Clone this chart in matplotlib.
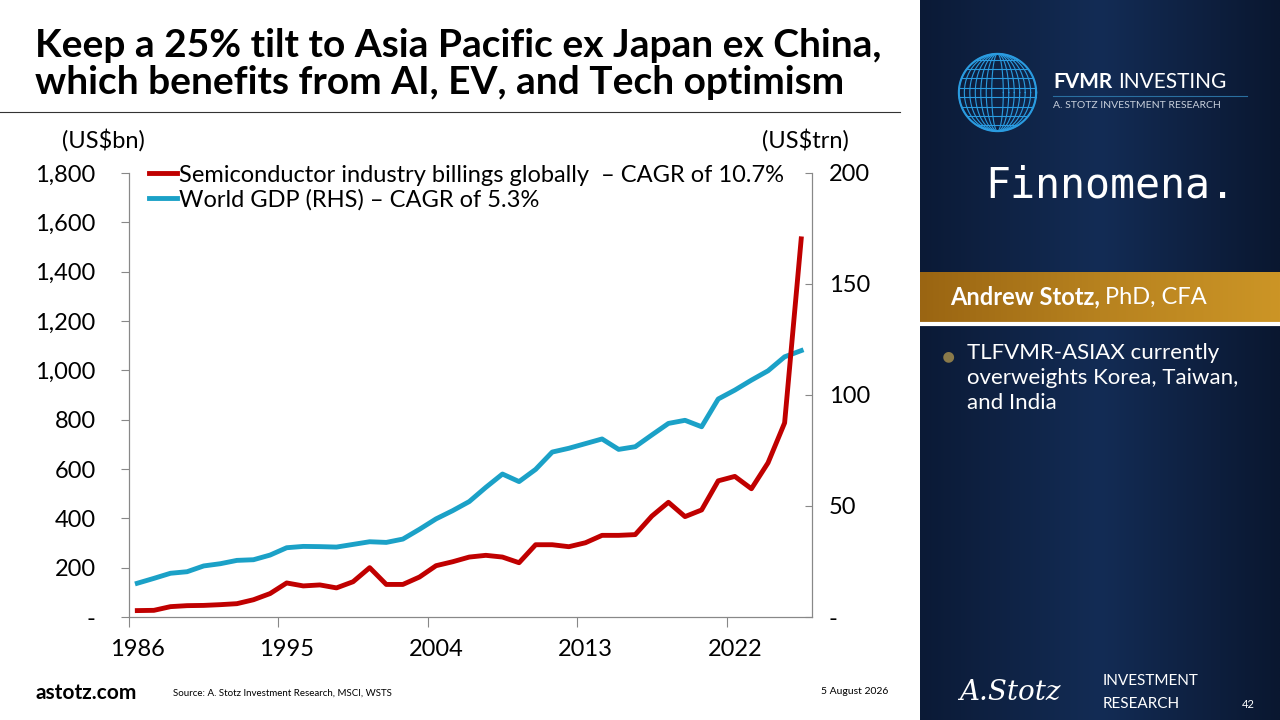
import numpy as np
import matplotlib.pyplot as plt
from matplotlib.ticker import FixedLocator, FuncFormatter

plt.rcParams['font.family'] = ['Lato', 'DejaVu Sans']

# data
years = list(range(1986, 2027))
semis = [26, 27, 42, 46, 47, 50, 54, 70, 95, 138, 126, 130, 118, 143, 200, 132, 132, 162,
         208, 224, 243, 250, 243, 220, 293, 293, 285, 301, 331, 331, 334, 409, 465, 407,
         434, 552, 570, 520, 625, 787, 1533]
gdp = [15.2, 17.4, 19.7, 20.4, 23.0, 24.0, 25.5, 25.8, 27.9, 31.2, 31.8, 31.7, 31.5, 32.7,
       33.9, 33.6, 35.1, 39.5, 44.2, 47.9, 52.0, 58.4, 64.4, 61.0, 66.5, 74.3, 76.0, 78.1,
       80.2, 75.5, 76.7, 82.0, 87.2, 88.6, 85.7, 98.2, 102.2, 106.7, 110.9, 117.2, 120.0]
year_labels = [1986, 1995, 2004, 2013, 2022]
left_ticks = [0, 200, 400, 600, 800, 1000, 1200, 1400, 1600, 1800]
right_ticks = [0, 50, 100, 150, 200]

RED = '#C00000'
BLUE = '#1BA1C7'

fig = plt.figure(figsize=(12.8, 7.2), dpi=100)
fig.patch.set_facecolor('white')

# right navy panel
bg = fig.add_axes([920/1280, 0, 360/1280, 1])
grad = np.linspace(0, 1, 256)
img = np.outer(np.ones(256), grad)
bg.imshow(img, cmap=plt.matplotlib.colors.LinearSegmentedColormap.from_list(
    'n', ['#0B1A36', '#132C55', '#0A1730']), aspect='auto', extent=[0, 1, 0, 1])
bg.axis('off')
bg.set_xlim(0, 1); bg.set_ylim(0, 1)
gold = fig.add_axes([920/1280, 1 - 322/720, 360/1280, 50/720])
gold.imshow(np.outer(np.ones(10), np.linspace(0, 1, 256)),
            cmap=plt.matplotlib.colors.LinearSegmentedColormap.from_list(
                'g', ['#9A6512', '#B7821F', '#CC9526']), aspect='auto', extent=[0, 1, 0, 1])
gold.axis('off')
fig.add_artist(plt.Line2D([920/1280, 1], [1 - 324/720] * 2, color='white', lw=3))

# globe logo
globe = fig.add_axes([955/1280, 1 - 135/720, 85/1280, 85/720])
t = np.linspace(0, 2 * np.pi, 200)
for r in np.linspace(0.15, 1, 7):
    globe.plot(r * np.cos(t), np.sin(t), color='#2A9BE0', lw=0.8)
for h in np.linspace(-0.85, 0.85, 8):
    w = np.sqrt(1 - h ** 2)
    globe.plot([-w, w], [h, h], color='#2A9BE0', lw=0.8)
globe.plot(np.cos(t), np.sin(t), color='#2A9BE0', lw=1.5)
globe.set_aspect('equal'); globe.axis('off')

fig.text(1053/1280, 1 - 82/720, 'FVMR', color='white', fontsize=15, fontweight='bold', va='center')
fig.text(1118/1280, 1 - 82/720, 'INVESTING', color='white', fontsize=15, va='center')
fig.add_artist(plt.Line2D([1053/1280, 1247/1280], [1 - 96/720] * 2, color='#2A6FA0', lw=0.8))
fig.text(1053/1280, 1 - 106/720, 'A. STOTZ INVESTMENT RESEARCH', color='#C8D0DC', fontsize=7.5, va='center')
fig.text(1110/1280, 1 - 185/720, 'Finnomena.', color='white', fontsize=30,
         family='DejaVu Sans Mono', ha='center', va='center')
fig.text(1100/1280, 1 - 297/720, 'Andrew Stotz,', color='white', fontsize=17, fontweight='bold',
         ha='right', va='center')
fig.text(1105/1280, 1 - 297/720, 'PhD, CFA', color='white', fontsize=17, ha='left', va='center')
fig.text(948/1280, 1 - 357/720, '●', color='#8A7A4A', fontsize=16, ha='center', va='center')
fig.text(967/1280, 1 - 343/720, 'TLFVMR-ASIAX currently\noverweights Korea, Taiwan,\nand India',
         color='white', fontsize=16, va='top', linespacing=1.3)

# title
fig.text(35/1280, 1 - 64/720, 'Keep a 25% tilt to Asia Pacific ex Japan ex China,\nwhich benefits from AI, EV, and Tech optimism',
         fontsize=28, fontweight='bold', va='center', linespacing=1.1)
fig.add_artist(plt.Line2D([0, 900/1280], [1 - 112/720] * 2, color='#333333', lw=0.8))

# chart
ax = fig.add_axes([129/1280, 1 - 617/720, (812 - 129)/1280, (617 - 173)/720])
ax2 = ax.twinx()
ax.plot(years, semis, color=RED, lw=3.5,
        label='Semiconductor industry billings globally  – CAGR of 10.7%', zorder=3)
ax2.plot(years, gdp, color=BLUE, lw=3.5, label='World GDP (RHS) – CAGR of 5.3%')
ax.set_zorder(ax2.get_zorder() + 1); ax.patch.set_visible(False)

ax.set_xlim(1985.5, 2026.65)
ax.set_ylim(0, 1800)
ax2.set_ylim(0, 200)
ax.xaxis.set_major_locator(FixedLocator([y - 0.5 for y in year_labels]))
ax.xaxis.set_minor_locator(FixedLocator(year_labels))
ax.xaxis.set_major_formatter(FuncFormatter(lambda v, p: ''))
ax.xaxis.set_minor_formatter(FuncFormatter(lambda v, p: f'{int(round(v))}'))
ax.tick_params(axis='x', which='major', length=7, direction='out', color='#888888')
ax.tick_params(axis='x', which='minor', length=0, labelsize=17, pad=16)
ax.set_yticks(left_ticks)
ax.yaxis.set_major_formatter(FuncFormatter(lambda v, p: '-' if v == 0 else f'{int(v):,}'))
ax.tick_params(axis='y', length=6, direction='out', labelsize=17, color='#888888', pad=18)
ax2.set_yticks(right_ticks)
ax2.yaxis.set_major_formatter(FuncFormatter(lambda v, p: '-' if v == 0 else f'{int(v)}'))
ax2.tick_params(axis='y', length=5, direction='in', labelsize=17, color='#888888', pad=12)
for a in (ax, ax2):
    a.spines['top'].set_visible(False)
    for s in ('left', 'right', 'bottom'):
        a.spines[s].set_color('#888888')

h1, l1 = ax.get_legend_handles_labels()
h2, l2 = ax2.get_legend_handles_labels()
ax.legend(h1 + h2, l1 + l2, loc='upper left', bbox_to_anchor=(0.015, 1.04), frameon=False,
          fontsize=17, handlelength=1.2, handletextpad=0.1, labelspacing=0.15, borderaxespad=0)

fig.text(62/1280, 1 - 140/720, '(US$bn)', fontsize=17, va='center')
fig.text(762/1280, 1 - 140/720, '(US$trn)', fontsize=17, va='center')

# footer
fig.text(35/1280, 1 - 693/720, 'astotz.com', fontsize=15, fontweight='bold', va='center')
fig.text(173/1280, 1 - 693/720, 'Source: A. Stotz Investment Research, MSCI, WSTS', fontsize=7, va='center')
fig.text(888/1280, 1 - 692/720, '5 August 2026', fontsize=7.5, va='center', ha='right')
fig.text(1010/1280, 1 - 692/720, 'A.Stotz', color='white', fontsize=20, style='italic',
         family='DejaVu Serif', ha='center', va='center')
fig.text(1103/1280, 1 - 681/720, 'INVESTMENT', color='white', fontsize=11, va='center')
fig.text(1103/1280, 1 - 704/720, 'RESEARCH', color='white', fontsize=11, va='center')
fig.text(1248/1280, 1 - 704/720, '42', color='white', fontsize=8, ha='center', va='center')

fig.savefig('out.png', dpi=100, facecolor=fig.get_facecolor())
